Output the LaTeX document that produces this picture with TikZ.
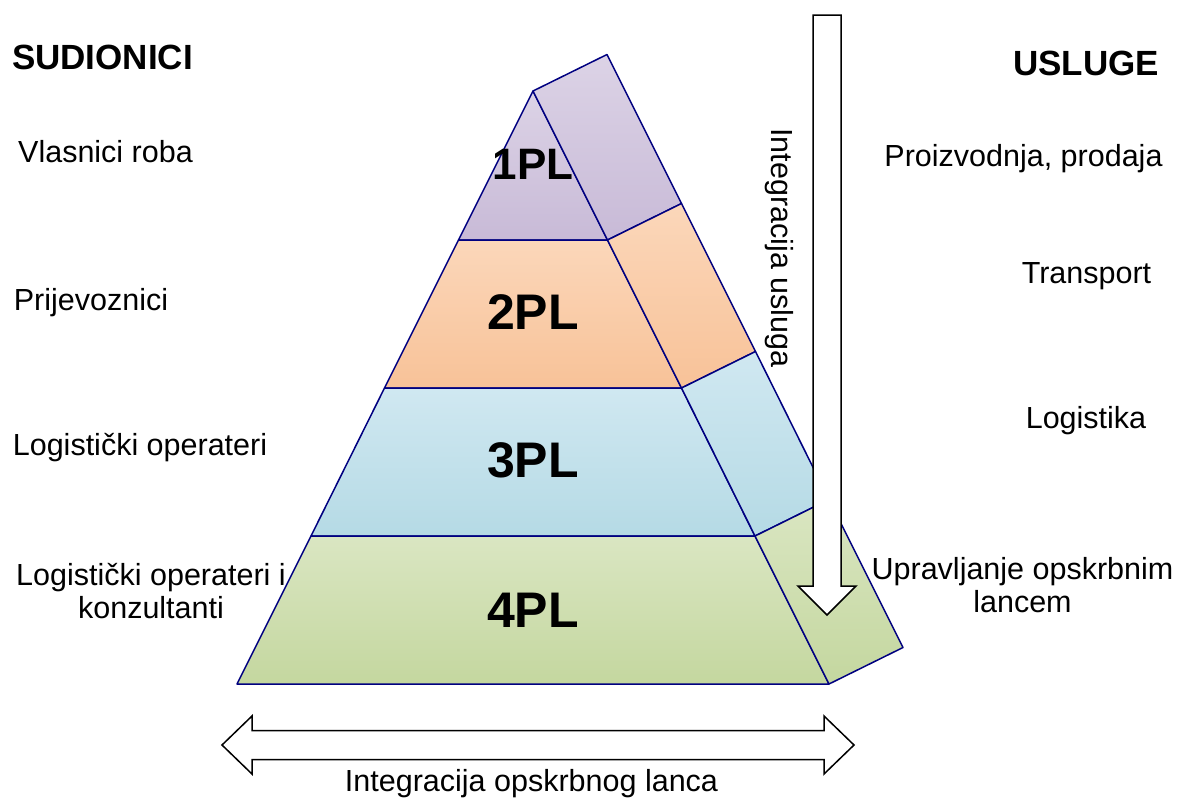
\documentclass[tikz,border=0pt]{standalone}
\usepackage{fontspec}
\setmainfont{Liberation Sans}
\usepackage{xcolor}
\usepackage{tikz}

\definecolor{edgeblue}{HTML}{000080}
\definecolor{lilacA}{HTML}{DCD3E6}
\definecolor{lilacB}{HTML}{C8BAD7}
\definecolor{peachA}{HTML}{FBD7BA}
\definecolor{peachB}{HTML}{F8C298}
\definecolor{skyA}{HTML}{D0E8F1}
\definecolor{skyB}{HTML}{B5DAE5}
\definecolor{sageA}{HTML}{DAE6C2}
\definecolor{sageB}{HTML}{C4D79F}

\tikzset{
  band/.style={draw=edgeblue, line width=1.5pt, line join=round},
  lbl/.style={anchor=base, inner sep=0pt, align=center, font=\fontsize{30.5}{33}\selectfont},
  heading/.style={anchor=base, inner sep=0pt, font=\fontsize{35}{40}\selectfont\bfseries},
  level/.style={inner sep=0pt, font=\fontsize{50}{55}\selectfont\bfseries},
  blockarrow/.style={draw=black, fill=white, line width=1.5pt, line join=miter}
}

\begin{document}
\begin{tikzpicture}[x=1pt,y=-1pt]
\useasboundingbox (0,0) rectangle (1177,798);

% front face of the pyramid
\coordinate (apex) at (533,91);
\coordinate (l1) at (458.5,240); \coordinate (r1) at (607.5,240);
\coordinate (l2) at (384.5,388); \coordinate (r2) at (681.5,388);
\coordinate (l3) at (311,536);   \coordinate (r3) at (755,536);
\coordinate (l4) at (237,684);   \coordinate (r4) at (829,684);
% back edge of the side face
\coordinate (bapex) at (607,54.5);
\coordinate (b1) at (681.5,203.5);
\coordinate (b2) at (755.5,351.5);
\coordinate (b3) at (829,499.5);
\coordinate (b4) at (903,647.5);

\shadedraw[band, top color=lilacA, bottom color=lilacB] (apex) -- (r1) -- (l1) -- cycle;
\shadedraw[band, top color=peachA, bottom color=peachB] (l1) -- (r1) -- (r2) -- (l2) -- cycle;
\shadedraw[band, top color=skyA, bottom color=skyB] (l2) -- (r2) -- (r3) -- (l3) -- cycle;
\shadedraw[band, top color=sageA, bottom color=sageB] (l3) -- (r3) -- (r4) -- (l4) -- cycle;

\shadedraw[band, top color=lilacA, bottom color=lilacB] (apex) -- (bapex) -- (b1) -- (r1) -- cycle;
\shadedraw[band, top color=peachA, bottom color=peachB] (r1) -- (b1) -- (b2) -- (r2) -- cycle;
\shadedraw[band, top color=skyA, bottom color=skyB] (r2) -- (b2) -- (b3) -- (r3) -- cycle;
\shadedraw[band, top color=sageA, bottom color=sageB] (r3) -- (b3) -- (b4) -- (r4) -- cycle;

\node[level, font=\fontsize{44}{48}\selectfont\bfseries] (pl1) at (533,164) {1PL};
\node[level] (pl2) at (533,312) {2PL};
\node[level] (pl3) at (533,460) {3PL};
\node[level] (pl4) at (533,610) {4PL};

% arrows
\draw[blockarrow] (813,15) -- (841,15) -- (841,586) -- (856,586) -- (827,615)
  -- (798,586) -- (813,586) -- cycle;
\draw[blockarrow] (222,745) -- (252,716) -- (252,730.5) -- (824,730.5) -- (824,716)
  -- (854,745) -- (824,774) -- (824,759.5) -- (252,759.5) -- (252,774) -- cycle;

\node[lbl, anchor=center, rotate=-90] (vert) at (779,248) {Integracija usluga};
\node[lbl] (horiz) at (531.5,791) {Integracija opskrbnog lanca};

% left column
\node[heading] (sud) at (102.5,69) {SUDIONICI};
\node[lbl] (vlas) at (105.5,162) {Vlasnici roba};
\node[lbl] (prij) at (91,310) {Prijevoznici};
\node[lbl] (logop) at (140,455) {Logistički operateri};
\node[lbl] (logkon) at (151,618) {Logistički operateri i\\konzultanti};

% right column
\node[heading] (usl) at (1086,75) {USLUGE};
\node[lbl] (proiz) at (1023.5,166) {Proizvodnja, prodaja};
\node[lbl] (trans) at (1086.5,283) {Transport};
\node[lbl] (logist) at (1086,428) {Logistika};
\node[lbl] (upr) at (1022.5,612) {Upravljanje opskrbnim\\lancem};
\end{tikzpicture}
\end{document}
